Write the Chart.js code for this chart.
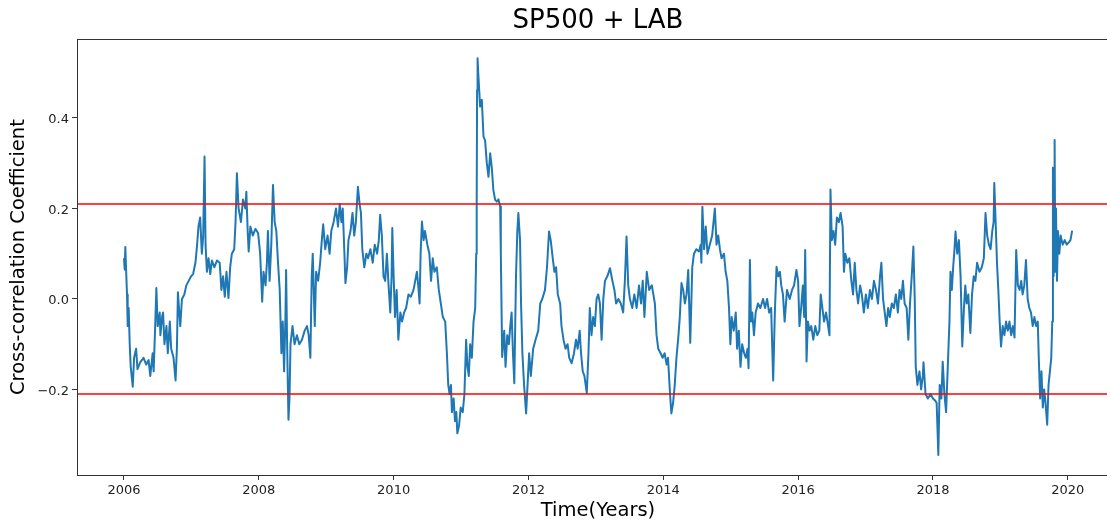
<!DOCTYPE html>
<html lang="en">
  <head>
    <meta charset="UTF-8" />
    <title>SP500 + LAB</title>
    <script src="https://cdn.jsdelivr.net/npm/chart.js"></script>
    <style>
      body { margin: 0; overflow: hidden; background: #fff; }
      canvas { display: block; }
    </style>
  </head>
  <body>
    <canvas id="corrChart" width="1120" height="521" style="width:1120px;height:521px"></canvas>
    <script>
      // rolling cross-correlation
      const years = [
        2006.00, 2006.01, 2006.02, 2006.03, 2006.045, 2006.055, 2006.07, 2006.085, 2006.10, 2006.13, 2006.15, 2006.18, 2006.20, 2006.24, 2006.29, 2006.33, 2006.365, 2006.39, 2006.425, 2006.44,
        2006.465, 2006.48, 2006.50, 2006.53, 2006.54, 2006.565, 2006.58, 2006.60, 2006.63, 2006.65, 2006.68, 2006.70, 2006.735, 2006.765, 2006.785, 2006.80, 2006.82, 2006.835, 2006.86, 2006.895,
        2006.925, 2006.96, 2006.995, 2007.025, 2007.06, 2007.085, 2007.105, 2007.13, 2007.155, 2007.175, 2007.195, 2007.21, 2007.23, 2007.255, 2007.28, 2007.305, 2007.34, 2007.38, 2007.42, 2007.445,
        2007.47, 2007.495, 2007.52, 2007.55, 2007.575, 2007.60, 2007.635, 2007.655, 2007.675, 2007.70, 2007.735, 2007.765, 2007.80, 2007.815, 2007.835, 2007.85, 2007.875, 2007.91, 2007.95, 2007.99,
        2008.02, 2008.05, 2008.07, 2008.10, 2008.12, 2008.135, 2008.16, 2008.185, 2008.21, 2008.235, 2008.26, 2008.285, 2008.31, 2008.335, 2008.355, 2008.375, 2008.395, 2008.405, 2008.42, 2008.44,
        2008.455, 2008.47, 2008.50, 2008.53, 2008.565, 2008.60, 2008.64, 2008.68, 2008.715, 2008.74, 2008.765, 2008.785, 2008.80, 2008.815, 2008.83, 2008.85, 2008.88, 2008.91, 2008.94, 2008.955,
        2008.985, 2009.02, 2009.05, 2009.075, 2009.11, 2009.145, 2009.175, 2009.20, 2009.225, 2009.245, 2009.27, 2009.285, 2009.31, 2009.33, 2009.36, 2009.39, 2009.415, 2009.44, 2009.47, 2009.495,
        2009.515, 2009.535, 2009.565, 2009.595, 2009.62, 2009.655, 2009.69, 2009.72, 2009.755, 2009.78, 2009.80, 2009.825, 2009.85, 2009.875, 2009.90, 2009.925, 2009.95, 2009.97, 2009.98, 2010.00,
        2010.02, 2010.045, 2010.07, 2010.10, 2010.125, 2010.155, 2010.185, 2010.22, 2010.255, 2010.295, 2010.32, 2010.345, 2010.365, 2010.385, 2010.40, 2010.42, 2010.445, 2010.465, 2010.50, 2010.53,
        2010.555, 2010.58, 2010.605, 2010.64, 2010.67, 2010.70, 2010.73, 2010.765, 2010.79, 2010.81, 2010.83, 2010.85, 2010.865, 2010.89, 2010.91, 2010.93, 2010.945, 2010.97, 2010.995, 2011.025,
        2011.05, 2011.075, 2011.095, 2011.115, 2011.135, 2011.16, 2011.185, 2011.21, 2011.225, 2011.232, 2011.238, 2011.245, 2011.255, 2011.283, 2011.308, 2011.333, 2011.357, 2011.382, 2011.407, 2011.432,
        2011.456, 2011.48, 2011.506, 2011.53, 2011.555, 2011.58, 2011.59, 2011.61, 2011.64, 2011.66, 2011.685, 2011.71, 2011.73, 2011.75, 2011.77, 2011.79, 2011.815, 2011.835, 2011.85, 2011.875,
        2011.89, 2011.91, 2011.935, 2011.965, 2011.99, 2012.01, 2012.035, 2012.07, 2012.105, 2012.145, 2012.175, 2012.205, 2012.245, 2012.275, 2012.305, 2012.33, 2012.36, 2012.385, 2012.41, 2012.435,
        2012.47, 2012.49, 2012.52, 2012.55, 2012.58, 2012.605, 2012.64, 2012.675, 2012.705, 2012.73, 2012.76, 2012.78, 2012.805, 2012.83, 2012.865, 2012.89, 2012.91, 2012.935, 2012.96, 2012.985,
        2013.01, 2013.035, 2013.06, 2013.085, 2013.11, 2013.135, 2013.17, 2013.21, 2013.245, 2013.275, 2013.30, 2013.335, 2013.37, 2013.405, 2013.43, 2013.455, 2013.48, 2013.505, 2013.54, 2013.57,
        2013.605, 2013.64, 2013.67, 2013.695, 2013.72, 2013.755, 2013.79, 2013.83, 2013.875, 2013.90, 2013.925, 2013.96, 2013.99, 2014.02, 2014.05, 2014.07, 2014.10, 2014.12, 2014.145, 2014.17,
        2014.195, 2014.22, 2014.245, 2014.27, 2014.295, 2014.32, 2014.345, 2014.37, 2014.40, 2014.43, 2014.455, 2014.49, 2014.53, 2014.555, 2014.565, 2014.58, 2014.605, 2014.63, 2014.655, 2014.69,
        2014.725, 2014.765, 2014.79, 2014.815, 2014.84, 2014.865, 2014.90, 2014.925, 2014.95, 2014.975, 2014.995, 2015.015, 2015.045, 2015.075, 2015.095, 2015.12, 2015.145, 2015.17, 2015.20, 2015.225,
        2015.25, 2015.265, 2015.285, 2015.30, 2015.32, 2015.345, 2015.37, 2015.405, 2015.44, 2015.48, 2015.51, 2015.54, 2015.57, 2015.60, 2015.63, 2015.655, 2015.68, 2015.705, 2015.73, 2015.75,
        2015.775, 2015.80, 2015.835, 2015.875, 2015.91, 2015.94, 2015.975, 2016.00, 2016.02, 2016.045, 2016.07, 2016.09, 2016.105, 2016.125, 2016.145, 2016.17, 2016.195, 2016.225, 2016.255, 2016.285,
        2016.315, 2016.335, 2016.36, 2016.385, 2016.415, 2016.445, 2016.465, 2016.48, 2016.50, 2016.525, 2016.55, 2016.575, 2016.605, 2016.63, 2016.66, 2016.68, 2016.70, 2016.73, 2016.76, 2016.79,
        2016.815, 2016.84, 2016.865, 2016.89, 2016.92, 2016.945, 2016.975, 2017.005, 2017.035, 2017.065, 2017.095, 2017.125, 2017.155, 2017.185, 2017.215, 2017.235, 2017.26, 2017.285, 2017.31, 2017.335,
        2017.36, 2017.39, 2017.42, 2017.45, 2017.48, 2017.505, 2017.53, 2017.555, 2017.58, 2017.61, 2017.635, 2017.66, 2017.685, 2017.71, 2017.73, 2017.745, 2017.77, 2017.80, 2017.825, 2017.85,
        2017.86, 2017.89, 2017.925, 2017.965, 2018.00, 2018.035, 2018.055, 2018.08, 2018.10, 2018.125, 2018.145, 2018.17, 2018.195, 2018.22, 2018.245, 2018.26, 2018.28, 2018.30, 2018.32, 2018.335,
        2018.36, 2018.385, 2018.41, 2018.435, 2018.46, 2018.48, 2018.50, 2018.525, 2018.555, 2018.58, 2018.605, 2018.63, 2018.655, 2018.69, 2018.725, 2018.755, 2018.78, 2018.805, 2018.83, 2018.855,
        2018.88, 2018.90, 2018.91, 2018.93, 2018.95, 2018.97, 2018.99, 2019.01, 2019.035, 2019.06, 2019.085, 2019.11, 2019.135, 2019.16, 2019.185, 2019.21, 2019.235, 2019.26, 2019.285, 2019.31,
        2019.33, 2019.355, 2019.38, 2019.405, 2019.43, 2019.455, 2019.48, 2019.505, 2019.53, 2019.555, 2019.57, 2019.59, 2019.61, 2019.63, 2019.65, 2019.67, 2019.695, 2019.715, 2019.735, 2019.755,
        2019.77, 2019.78, 2019.79, 2019.80, 2019.805, 2019.815, 2019.825, 2019.84, 2019.855, 2019.875, 2019.895, 2019.925, 2019.955, 2019.985, 2020.015, 2020.04, 2020.065,
      ];
      const coef = [
        0.09, 0.065, 0.115, 0.07, 0.01, -0.06, -0.02, -0.10, -0.15, -0.194, -0.13, -0.11, -0.155, -0.14, -0.13, -0.145, -0.135, -0.17, -0.12, -0.16,
        -0.05, 0.024, -0.06, -0.03, -0.08, -0.04, -0.03, -0.10, -0.06, -0.12, -0.05, -0.11, -0.13, -0.18, -0.11, 0.015, -0.03, -0.06, 0.0, 0.01,
        0.03, 0.04, 0.05, 0.055, 0.08, 0.12, 0.16, 0.18, 0.10, 0.14, 0.315, 0.12, 0.06, 0.09, 0.055, 0.085, 0.07, 0.085, 0.08, 0.02,
        0.05, 0.005, 0.06, 0.002, 0.07, 0.10, 0.11, 0.17, 0.278, 0.20, 0.17, 0.22, 0.20, 0.237, 0.15, 0.105, 0.16, 0.14, 0.155, 0.145,
        0.10, -0.006, 0.06, 0.03, 0.08, 0.15, 0.04, 0.12, 0.252, 0.17, 0.15, 0.08, 0.02, -0.12, -0.05, -0.16, -0.04, 0.064, -0.10, -0.267,
        -0.22, -0.10, -0.06, -0.10, -0.08, -0.10, -0.09, -0.07, -0.06, -0.08, -0.13, 0.05, 0.10, 0.02, -0.06, 0.06, 0.04, 0.08, 0.14, 0.165,
        0.11, 0.14, 0.10, 0.15, 0.17, 0.20, 0.16, 0.21, 0.17, 0.20, 0.10, 0.035, 0.07, 0.13, 0.15, 0.19, 0.14, 0.17, 0.248, 0.21,
        0.19, 0.11, 0.07, 0.10, 0.09, 0.11, 0.08, 0.12, 0.10, 0.13, 0.186, 0.14, 0.05, 0.04, 0.10, 0.03, -0.03, 0.05, 0.157, 0.05,
        -0.04, 0.02, -0.09, -0.03, -0.05, -0.03, -0.02, 0.01, 0.005, 0.02, 0.04, 0.06, 0.03, -0.01, 0.10, 0.171, 0.13, 0.15, 0.12, 0.10,
        0.04, 0.09, 0.06, 0.07, 0.02, -0.01, -0.04, -0.05, -0.12, -0.19, -0.21, -0.19, -0.25, -0.22, -0.27, -0.25, -0.297, -0.28, -0.24, -0.25,
        -0.21, -0.09, -0.15, -0.17, -0.10, -0.13, -0.05, -0.02, 0.10, 0.21, 0.462, 0.532, 0.50, 0.425, 0.44, 0.359, 0.35, 0.30, 0.27, 0.322,
        0.29, 0.24, 0.219, 0.215, 0.22, 0.205, 0.10, -0.128, -0.07, -0.15, -0.08, -0.10, -0.06, -0.03, -0.12, -0.186, 0.05, 0.15, 0.19, 0.13,
        -0.01, -0.12, -0.19, -0.253, -0.18, -0.12, -0.17, -0.11, -0.09, -0.07, -0.01, 0.0, 0.02, 0.07, 0.149, 0.13, 0.09, 0.06, 0.07, 0.01,
        -0.01, -0.06, -0.09, -0.11, -0.10, -0.13, -0.142, -0.12, -0.09, -0.11, -0.07, -0.12, -0.16, -0.17, -0.208, -0.12, -0.02, -0.08, -0.04, -0.06,
        0.0, 0.01, -0.01, -0.09, 0.0, 0.04, 0.05, 0.068, 0.04, 0.02, -0.01, 0.0, -0.01, -0.03, 0.04, 0.138, 0.03, 0.0, -0.02, 0.01,
        -0.02, 0.03, -0.01, 0.04, -0.04, 0.06, 0.02, 0.03, -0.01, -0.08, -0.11, -0.12, -0.13, -0.12, -0.145, -0.13, -0.21, -0.253, -0.23, -0.19,
        -0.13, -0.09, -0.04, 0.035, 0.02, -0.01, 0.01, 0.064, -0.097, 0.07, 0.10, 0.11, 0.105, 0.12, 0.08, 0.204, 0.11, 0.16, 0.10, 0.12,
        0.14, 0.20, 0.12, 0.14, 0.11, 0.09, 0.10, 0.06, 0.04, -0.02, -0.10, -0.04, -0.07, -0.03, -0.11, -0.07, -0.15, -0.10, -0.12, -0.13,
        -0.11, -0.153, 0.086, -0.05, -0.03, -0.08, -0.03, -0.01, -0.02, 0.0, -0.02, 0.0, -0.03, -0.02, -0.18, -0.03, 0.071, 0.05, 0.06, 0.03,
        0.01, -0.05, 0.02, 0.0, 0.02, 0.03, 0.064, 0.04, -0.06, -0.02, 0.03, -0.04, 0.108, -0.138, -0.05, -0.07, -0.06, -0.09, -0.06, -0.08,
        -0.07, 0.01, -0.02, -0.05, -0.03, -0.06, -0.08, 0.242, 0.13, 0.15, 0.12, 0.18, 0.17, 0.19, 0.16, 0.06, 0.10, 0.08, 0.09, 0.04,
        0.01, 0.08, 0.02, -0.01, 0.03, 0.01, -0.03, 0.01, -0.02, 0.02, 0.0, 0.04, 0.02, -0.01, 0.05, 0.08, 0.0, -0.03, -0.06, -0.02,
        -0.04, -0.01, -0.02, 0.01, -0.03, 0.02, 0.0, 0.04, -0.01, -0.02, -0.09, -0.01, 0.05, 0.116, 0.0, -0.15, -0.19, -0.16, -0.20, -0.17,
        -0.14, -0.21, -0.22, -0.21, -0.22, -0.225, -0.23, -0.345, -0.19, -0.22, -0.139, -0.21, -0.25, -0.15, -0.05, 0.06, 0.02, 0.07, 0.11, 0.149,
        0.10, 0.13, 0.05, -0.105, -0.02, 0.03, -0.01, 0.01, -0.075, 0.01, 0.05, 0.04, 0.08, 0.06, 0.07, 0.09, 0.19, 0.14, 0.12, 0.11,
        0.15, 0.17, 0.256, 0.17, 0.08, 0.02, -0.05, -0.105, -0.06, -0.08, -0.05, -0.07, -0.05, -0.08, -0.06, -0.085, 0.108, 0.03, 0.02, 0.04,
        0.01, 0.03, 0.086, 0.0, -0.02, -0.03, -0.06, -0.04, -0.06, -0.05, -0.13, -0.22, -0.16, -0.24, -0.20, -0.23, -0.278, -0.19, -0.16, -0.13,
        -0.05, 0.29, 0.05, 0.27, 0.351, 0.06, 0.20, 0.04, 0.15, 0.10, 0.14, 0.12, 0.13, 0.12, 0.125, 0.13, 0.151,
      ];
      const threshold = 0.21;
      const xTicks = [2006, 2008, 2010, 2012, 2014, 2016, 2018, 2020];
      const yTicks = [-0.2, 0.0, 0.2, 0.4];

      const xMin = 2005.303;
      const xMax = 2020.76;
      const yMin = -0.389;
      const yMax = 0.574;

      if (years.length !== coef.length) {
        console.error("length mismatch", years.length, coef.length);
      }

      const font = "DejaVu Sans";
      const seriesPoints = years.map((t, i) => ({ x: t, y: coef[i] }));

      // axes frame, matplotlib style (right side runs off the page)
      const framePlugin = {
        id: "frame",
        afterDatasetsDraw(chart) {
          const { ctx, chartArea } = chart;
          ctx.save();
          ctx.strokeStyle = "#333";
          ctx.lineWidth = 1;
          ctx.strokeRect(
            Math.round(chartArea.left) + 0.5,
            Math.round(chartArea.top) + 0.5,
            chartArea.right - chartArea.left,
            Math.round(chartArea.bottom - chartArea.top)
          );
          ctx.restore();
        },
      };

      const ctx = document.getElementById("corrChart").getContext("2d");
      new Chart(ctx, {
        type: "line",
        data: {
          datasets: [
            {
              data: [{ x: xMin, y: threshold }, { x: xMax, y: threshold }],
              borderColor: "#ff0000",
              borderWidth: 1.6,
              pointRadius: 0,
            },
            {
              data: [{ x: xMin, y: -threshold }, { x: xMax, y: -threshold }],
              borderColor: "#ff0000",
              borderWidth: 1.6,
              pointRadius: 0,
            },
            {
              data: seriesPoints,
              borderColor: "#1f77b4",
              borderWidth: 2,
              borderJoinStyle: "round",
              pointRadius: 0,
              tension: 0,
            },
          ],
        },
        options: {
          responsive: false,
          animation: false,
          devicePixelRatio: 1,
          layout: { padding: { left: 0, right: 1, top: 0, bottom: 0 } },
          plugins: {
            legend: { display: false },
            tooltip: { enabled: false },
            title: {
              display: true,
              text: "SP500 + LAB",
              fullSize: false,
              color: "#000",
              font: { family: font, size: 26, weight: "normal", lineHeight: 1.2 },
              padding: { top: 6, bottom: 2 },
            },
          },
          scales: {
            x: {
              type: "linear",
              min: xMin,
              max: xMax,
              afterFit: (scale) => { scale.height = 46; },
              afterBuildTicks: (scale) => {
                scale.ticks = xTicks.map((v) => ({ value: v }));
              },
              grid: { drawOnChartArea: false, drawTicks: true, tickLength: 5, color: "#333" },
              border: { display: false },
              ticks: {
                color: "#222",
                padding: 3,
                maxRotation: 0,
                font: { family: font, size: 13 },
                callback: (v) => String(v),
              },
              title: {
                display: true,
                text: "Time(Years)",
                color: "#000",
                font: { family: font, size: 19.5, lineHeight: 1.2 },
                padding: { top: 0, bottom: -2 },
              },
            },
            y: {
              min: yMin,
              max: yMax,
              afterFit: (scale) => { scale.width = 77; },
              afterBuildTicks: (scale) => {
                scale.ticks = yTicks.map((v) => ({ value: v }));
              },
              grid: { drawOnChartArea: false, drawTicks: true, tickLength: 5, color: "#333" },
              border: { display: false },
              ticks: {
                color: "#222",
                padding: 3,
                labelOffset: 2,
                font: { family: font, size: 13 },
                callback: (v) => (v < 0 ? "\u2212" + Math.abs(v).toFixed(1) : v.toFixed(1)),
              },
              title: {
                display: true,
                text: "Cross-correlation Coefficient",
                color: "#000",
                font: { family: font, size: 19.5, lineHeight: 1.2 },
                padding: { top: 7, bottom: 0 },
              },
            },
          },
        },
        plugins: [framePlugin],
      });
    </script>
  </body>
</html>
